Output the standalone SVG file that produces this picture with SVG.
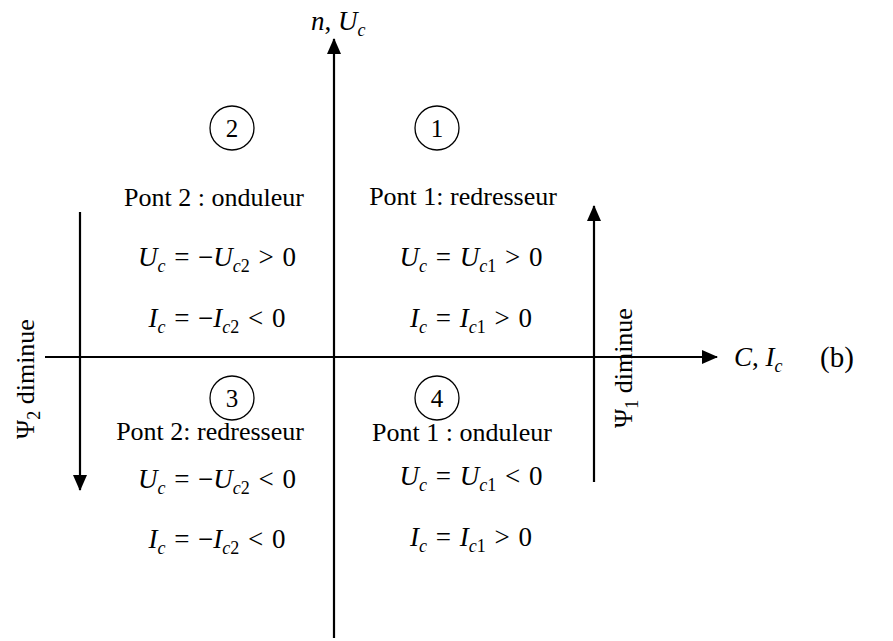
<svg xmlns="http://www.w3.org/2000/svg" width="893" height="641" viewBox="0 0 893 641">
<style>
.ax{stroke:#000;stroke-width:2.2;fill:none}
.t{font-family:"Liberation Serif","Times New Roman",serif;font-size:26px;fill:#000}
.m{font-family:"Liberation Serif","Times New Roman",serif;font-size:27px;fill:#000;word-spacing:2px}
.i{font-style:italic}
.s{font-size:18px}
.c{fill:none;stroke:#000;stroke-width:1.3}
.n{font-family:"Liberation Serif","Times New Roman",serif;font-size:25px;fill:#000;text-anchor:middle}
.p{font-size:26px}
</style>
<defs>
<marker id="ah" viewBox="0 0 16 14" refX="15" refY="7" markerWidth="16" markerHeight="14" markerUnits="userSpaceOnUse" orient="auto">
<path d="M0,0 L16,7 L0,14 Z" fill="#000"/>
</marker>
</defs>
<rect width="893" height="641" fill="#fff"/>
<g id="connectors">
<line class="ax" x1="334" y1="638" x2="334" y2="39" marker-end="url(#ah)"/>
<line class="ax" x1="45" y1="357" x2="717" y2="357" marker-end="url(#ah)"/>
<line class="ax" x1="80" y1="212" x2="80" y2="490" marker-end="url(#ah)"/>
<line class="ax" x1="594" y1="482" x2="594" y2="206" marker-end="url(#ah)"/>
</g>
<g id="axis-labels">
<text class="m" x="311" y="30" style="word-spacing:0"><tspan class="i">n</tspan>, <tspan class="i">U</tspan><tspan class="s i" dy="6">c</tspan></text>
<text class="m" x="734" y="366" style="word-spacing:0"><tspan class="i">C</tspan>, <tspan class="i">I</tspan><tspan class="s i" dy="6">c</tspan></text>
<text class="t" x="820" y="367" style="font-size:29px">(b)</text>
<text class="t" transform="translate(34,439) rotate(-90)">Ψ<tspan class="s" dy="6">2</tspan><tspan dy="-6"> diminue</tspan></text>
<text class="t" transform="translate(632,428) rotate(-90)">Ψ<tspan class="s" dy="6">1</tspan><tspan dy="-6"> diminue</tspan></text>
</g>
<g id="q1">
<circle class="c" cx="437" cy="128" r="22"/>
<text class="n" x="437" y="137">1</text>
<text class="n p" x="463" y="205">Pont 1: redresseur</text>
<text class="m" x="471" y="266" text-anchor="middle"><tspan class="i">U</tspan><tspan class="s i" dy="6">c</tspan><tspan dy="-6"> = </tspan><tspan class="i">U</tspan><tspan class="s" dy="6"><tspan class="i">c</tspan>1</tspan><tspan dy="-6"> &gt; 0</tspan></text>
<text class="m" x="471" y="327" text-anchor="middle"><tspan class="i">I</tspan><tspan class="s i" dy="6">c</tspan><tspan dy="-6"> = </tspan><tspan class="i">I</tspan><tspan class="s" dy="6"><tspan class="i">c</tspan>1</tspan><tspan dy="-6"> &gt; 0</tspan></text>
</g>
<g id="q2">
<circle class="c" cx="232" cy="128" r="22"/>
<text class="n" x="232" y="137">2</text>
<text class="n p" x="214" y="206">Pont 2 : onduleur</text>
<text class="m" x="217" y="266" text-anchor="middle"><tspan class="i">U</tspan><tspan class="s i" dy="6">c</tspan><tspan dy="-6"> = −</tspan><tspan class="i">U</tspan><tspan class="s" dy="6"><tspan class="i">c</tspan>2</tspan><tspan dy="-6"> &gt; 0</tspan></text>
<text class="m" x="217" y="327" text-anchor="middle"><tspan class="i">I</tspan><tspan class="s i" dy="6">c</tspan><tspan dy="-6"> = −</tspan><tspan class="i">I</tspan><tspan class="s" dy="6"><tspan class="i">c</tspan>2</tspan><tspan dy="-6"> &lt; 0</tspan></text>
</g>
<g id="q3">
<circle class="c" cx="232" cy="398" r="22"/>
<text class="n" x="232" y="407">3</text>
<text class="n p" x="210" y="440">Pont 2: redresseur</text>
<text class="m" x="217" y="488" text-anchor="middle"><tspan class="i">U</tspan><tspan class="s i" dy="6">c</tspan><tspan dy="-6"> = −</tspan><tspan class="i">U</tspan><tspan class="s" dy="6"><tspan class="i">c</tspan>2</tspan><tspan dy="-6"> &lt; 0</tspan></text>
<text class="m" x="217" y="548" text-anchor="middle"><tspan class="i">I</tspan><tspan class="s i" dy="6">c</tspan><tspan dy="-6"> = −</tspan><tspan class="i">I</tspan><tspan class="s" dy="6"><tspan class="i">c</tspan>2</tspan><tspan dy="-6"> &lt; 0</tspan></text>
</g>
<g id="q4">
<circle class="c" cx="437" cy="398" r="22"/>
<text class="n" x="437" y="407">4</text>
<text class="n p" x="462" y="441">Pont 1 : onduleur</text>
<text class="m" x="471" y="485" text-anchor="middle"><tspan class="i">U</tspan><tspan class="s i" dy="6">c</tspan><tspan dy="-6"> = </tspan><tspan class="i">U</tspan><tspan class="s" dy="6"><tspan class="i">c</tspan>1</tspan><tspan dy="-6"> &lt; 0</tspan></text>
<text class="m" x="471" y="546" text-anchor="middle"><tspan class="i">I</tspan><tspan class="s i" dy="6">c</tspan><tspan dy="-6"> = </tspan><tspan class="i">I</tspan><tspan class="s" dy="6"><tspan class="i">c</tspan>1</tspan><tspan dy="-6"> &gt; 0</tspan></text>
</g>
</svg>
